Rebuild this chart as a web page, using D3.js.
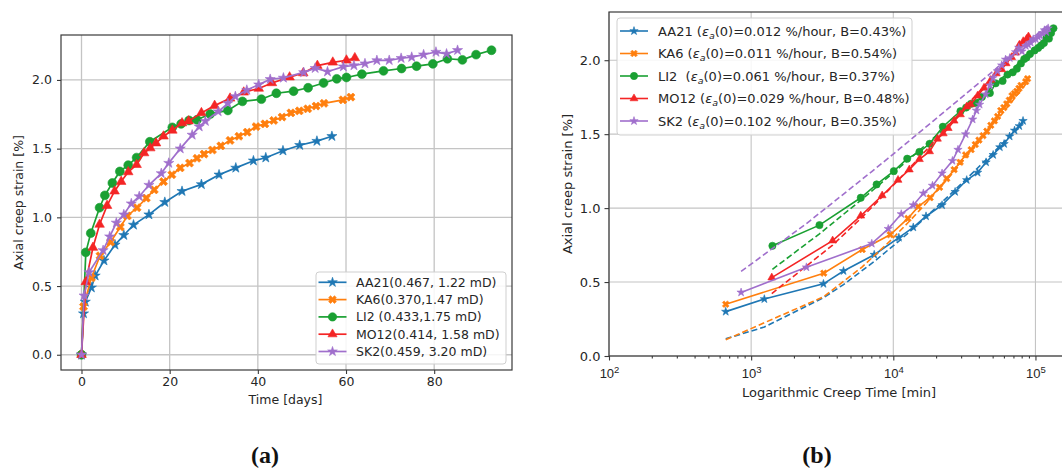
<!DOCTYPE html>
<html><head><meta charset="utf-8">
<script src="https://cdn.jsdelivr.net/npm/d3@7"></script>
<style>
body{margin:0;background:#fff;}
svg{display:block;font-family:"DejaVu Sans",sans-serif;}
text{white-space:pre;}
</style></head><body>
<svg id="chart" width="1062" height="473"></svg>
<script>
// ---------- data ----------
const seriesNames = ["AA21","KA6","LI2","MO12","SK2"];
const legendA = ["AA21(0.467, 1.22 mD)","KA6(0.370,1.47 mD)","LI2 (0.433,1.75 mD)","MO12(0.414, 1.58 mD)","SK2(0.459, 3.20 mD)"];
const legendBName = ["AA21","KA6","LI2 ","MO12","SK2"];
const legendBRate = ["0.012","0.011","0.061","0.029","0.102"];
const legendBB = ["0.43%","0.54%","0.37%","0.48%","0.35%"];
const xTicksA = [0,20,40,60,80];
const yTicks = [0,0.5,1.0,1.5,2.0];
const xTicksB = [1e2,1e3,1e4,1e5];
const xTickExpB = ["2","3","4","5"];

// time in days, axial creep strain in %
const daysAA21 = [0,0.46,0.86,2.24,3.1,5.1,7.6,9.6,11.8,15.3,18.9,22.8,27.2,31.2,35.0,39.0,41.8,45.7,49.5,53.4,56.8];
const strainAA21 = [0,0.30,0.385,0.488,0.575,0.685,0.80,0.87,0.945,1.02,1.11,1.19,1.24,1.31,1.36,1.412,1.434,1.485,1.525,1.555,1.59];
const fitAA21 = [0.116,0.196,0.394,0.483,0.639,0.777,0.862,0.940,1.041,1.124,1.199,1.271,1.327,1.374,1.419,1.448,1.485,1.518,1.550,1.576];

const daysKA6 = [0,0.46,2.25,4.2,6.6,8.8,10.4,12.6,14.7,16.5,18.6,20.5,22.4,24.5,26.2,27.8,29.7,31.6,33.7,35.7,37.6,39.6,41.6,43.6,45.5,47.5,49.4,51.3,53.2,55.0,59.3,61.1];
const strainKA6 = [0,0.35,0.56,0.72,0.82,0.93,1.01,1.07,1.14,1.20,1.26,1.31,1.36,1.395,1.43,1.46,1.49,1.52,1.56,1.59,1.62,1.66,1.68,1.705,1.73,1.76,1.775,1.79,1.81,1.83,1.855,1.875];
const fitKA6 = [0.110,0.401,0.603,0.778,0.901,0.975,1.063,1.135,1.191,1.248,1.296,1.340,1.384,1.418,1.447,1.481,1.512,1.545,1.574,1.601,1.627,1.653,1.677,1.699,1.721,1.741,1.761,1.780,1.797,1.837,1.852];

const daysLI2 = [0,0.98,2.1,4.1,5.3,7.0,8.7,10.6,12.5,15.5,20.6,22.6,24.4,26.2,29.2,33.2,36.5,40.8,44.2,48.1,51.4,54.9,57.9,60.1,63.6,68.5,72.6,76.0,79.7,83.0,86.4,89.5,93.0];
const strainLI2 = [0,0.745,0.885,1.07,1.16,1.25,1.334,1.38,1.435,1.55,1.655,1.68,1.705,1.71,1.752,1.778,1.844,1.86,1.903,1.918,1.943,1.978,2.008,2.018,2.042,2.066,2.083,2.10,2.117,2.154,2.146,2.184,2.216];
const fitLI2 = [0.586,0.826,1.053,1.143,1.242,1.320,1.391,1.451,1.529,1.633,1.667,1.695,1.721,1.761,1.808,1.843,1.883,1.913,1.944,1.968,1.993,2.012,2.026,2.047,2.074,2.096,2.113,2.130,2.145,2.160,2.173,2.187];

const daysMO12 = [0,0.97,2.6,4.1,5.8,7.5,9.0,10.6,12.5,14.2,15.6,16.9,18.6,20.6,22.8,24.3,27.2,30.2,33.7,36.8,40.2,43.2,47.2,50.3,53.5,57.0,60.1,62.0];
const strainMO12 = [0,0.53,0.78,0.948,1.085,1.19,1.26,1.33,1.383,1.468,1.504,1.54,1.59,1.633,1.686,1.70,1.76,1.813,1.866,1.91,1.938,1.978,2.02,2.05,2.104,2.128,2.143,2.16];
const fitMO12 = [0.422,0.750,0.930,1.076,1.188,1.269,1.342,1.417,1.475,1.518,1.555,1.599,1.646,1.694,1.723,1.776,1.825,1.876,1.918,1.960,1.994,2.035,2.066,2.095,2.125,2.150,2.165];

const daysSK2 = [0,0.59,1.7,4.9,6.4,7.9,9.6,11.3,13.1,15.3,18.1,19.8,22.4,25.1,26.7,28.1,31.0,33.2,34.9,37.5,40.2,42.8,45.8,50.4,53.0,55.8,59.4,61.8,64.3,67.0,69.8,72.5,74.9,77.6,80.4,82.8,85.3];
const strainSK2 = [0,0.43,0.60,0.76,0.86,0.96,1.02,1.10,1.152,1.235,1.32,1.395,1.50,1.60,1.66,1.70,1.77,1.83,1.88,1.926,1.966,2.005,2.015,2.055,2.085,2.06,2.097,2.105,2.119,2.142,2.143,2.158,2.166,2.184,2.203,2.19,2.216];
const fitSK2 = [0.572,0.895,1.247,1.338,1.410,1.478,1.534,1.585,1.639,1.697,1.728,1.771,1.811,1.832,1.850,1.884,1.908,1.926,1.951,1.975,1.997,2.020,2.054,2.071,2.089,2.111,2.125,2.139,2.153,2.168,2.181,2.192,2.205,2.217,2.227,2.238];

const colors = ["#1f77b4","#ff7f0e","#1aa032","#f42525","#a06fcc"];
const markers = ["star","x","circle","triangle","star"];

const series = [
  {days:daysAA21, strain:strainAA21, fit:fitAA21},
  {days:daysKA6, strain:strainKA6, fit:fitKA6},
  {days:daysLI2, strain:strainLI2, fit:fitLI2},
  {days:daysMO12, strain:strainMO12, fit:fitMO12},
  {days:daysSK2, strain:strainSK2, fit:fitSK2}
].map((s,i)=>({name:seriesNames[i], color:colors[i], marker:markers[i],
  pts:s.days.map((d,j)=>({d:d, v:s.strain[j]})),
  fitPts:s.days.slice(1).map((d,j)=>({d:d, v:s.fit[j]}))}));

// ---------- helpers ----------
const svg = d3.select("#chart");
const textColor = "#262626";
const spineColor = "#3a3a3a";
const gridColor = "#c4c4c4";
const fsA = 12.5, fsB = 13;

function symbolPath(type, scale){
  if(type==="star") return d3.symbol(d3.symbolStar, 32*scale*scale)();
  if(type==="x") return d3.symbol(d3.symbolCross, 42*scale*scale)();
  if(type==="circle") return d3.symbol(d3.symbolCircle, 62*scale*scale)();
  return d3.symbol(d3.symbolTriangle, 40*scale*scale)();
}
function drawMarker(g, type, x, y, color, scale){
  g.append("path").attr("d", symbolPath(type, scale))
    .attr("transform", `translate(${x},${y})` + (type==="x" ? " rotate(45)" : ""))
    .attr("fill", color).attr("stroke", color).attr("stroke-width", 0.6);
}

// ---------- panel (a) ----------
const A = {l:61, r:512, t:35, b:370};
const xA = d3.scaleLinear().domain([-4.65, 97.65]).range([A.l, A.r]);
const yA = d3.scaleLinear().domain([-0.111, 2.327]).range([A.b, A.t]);
const gA = svg.append("g");
svg.append("clipPath").attr("id","clipA").append("rect")
  .attr("x",A.l).attr("y",A.t).attr("width",A.r-A.l).attr("height",A.b-A.t);

gA.append("g").selectAll("line").data(xTicksA).join("line")
  .attr("x1",d=>xA(d)).attr("x2",d=>xA(d)).attr("y1",A.t).attr("y2",A.b)
  .attr("stroke",gridColor).attr("stroke-width",1.3);
gA.append("g").selectAll("line").data(yTicks).join("line")
  .attr("y1",d=>yA(d)).attr("y2",d=>yA(d)).attr("x1",A.l).attr("x2",A.r)
  .attr("stroke",gridColor).attr("stroke-width",1.3);

const axA_x = gA.append("g").attr("transform",`translate(0,${A.b})`)
  .call(d3.axisBottom(xA).tickValues(xTicksA).tickFormat(d3.format("d")).tickSize(4).tickPadding(3));
const axA_y = gA.append("g").attr("transform",`translate(${A.l},0)`)
  .call(d3.axisLeft(yA).tickValues(yTicks).tickFormat(d3.format(".1f")).tickSize(4).tickPadding(5));
[axA_x, axA_y].forEach(a=>{
  a.select(".domain").remove();
  a.selectAll("line").attr("stroke",spineColor).attr("stroke-width",1.1);
  a.selectAll("text").attr("fill",textColor).attr("font-size",fsA).attr("font-family","DejaVu Sans");
});

const plotA = gA.append("g").attr("clip-path","url(#clipA)");
const lineA = d3.line().x(p=>xA(p.d)).y(p=>yA(p.v));
series.forEach(s=>{
  plotA.append("path").attr("d",lineA(s.pts)).attr("fill","none")
    .attr("stroke",s.color).attr("stroke-width",1.7);
  const mg = plotA.append("g");
  s.pts.forEach(p=>drawMarker(mg, s.marker, xA(p.d), yA(p.v), s.color, 1));
});

gA.append("rect").attr("x",A.l).attr("y",A.t).attr("width",A.r-A.l).attr("height",A.b-A.t)
  .attr("fill","none").attr("stroke",spineColor).attr("stroke-width",1.2);

gA.append("text").attr("x",285.5).attr("y",404).attr("text-anchor","middle")
  .attr("font-size",fsA).attr("fill",textColor).text("Time [days]");
gA.append("text").attr("transform",`translate(19,${(A.t+A.b)/2}) rotate(-90)`).attr("dy","0.35em")
  .attr("text-anchor","middle").attr("font-size",fsA).attr("fill",textColor).text("Axial creep strain [%]");

const LA = {x:316, y:272, w:190, h:92};
const legA = gA.append("g");
legA.append("rect").attr("x",LA.x).attr("y",LA.y).attr("width",LA.w).attr("height",LA.h)
  .attr("rx",3).attr("fill","#fff").attr("fill-opacity",0.85).attr("stroke","#cfcfcf").attr("stroke-width",1);
series.forEach((s,i)=>{
  const cy = 282.3 + 17.3*i;
  legA.append("line").attr("x1",318.5).attr("x2",346.5).attr("y1",cy).attr("y2",cy)
    .attr("stroke",s.color).attr("stroke-width",1.7);
  drawMarker(legA, s.marker, 332.5, cy, s.color, 0.95);
  legA.append("text").attr("x",356).attr("y",cy).attr("dy","0.36em")
    .attr("font-size",fsA).attr("fill",textColor).text(legendA[i]);
});

// ---------- panel (b) ----------
const B = {l:609, r:1070, t:12, b:356};
const xB = d3.scaleLog().domain([100, 175000]).range([B.l, B.r]);
const yB = d3.scaleLinear().domain([0, 2.326]).range([B.b, B.t]);
const gB = svg.append("g");
svg.append("clipPath").attr("id","clipB").append("rect")
  .attr("x",B.l).attr("y",B.t).attr("width",B.r-B.l).attr("height",B.b-B.t);

gB.append("g").selectAll("line").data(xTicksB).join("line")
  .attr("x1",d=>xB(d)).attr("x2",d=>xB(d)).attr("y1",B.t).attr("y2",B.b)
  .attr("stroke",gridColor).attr("stroke-width",1.1);
gB.append("g").selectAll("line").data(yTicks).join("line")
  .attr("y1",d=>yB(d)).attr("y2",d=>yB(d)).attr("x1",B.l).attr("x2",B.r)
  .attr("stroke",gridColor).attr("stroke-width",1.1);

const minorB = [];
[100,1000,10000,100000].forEach(base=>{ for(let k=2;k<=9;k++){ if(base*k<175000) minorB.push(base*k);} });
const axB_minor = gB.append("g").attr("transform",`translate(0,${B.b})`)
  .call(d3.axisBottom(xB).tickValues(minorB).tickFormat("").tickSize(2.5));
const axB_x = gB.append("g").attr("transform",`translate(0,${B.b})`)
  .call(d3.axisBottom(xB).tickValues(xTicksB).tickFormat("").tickSize(4.5));
const axB_y = gB.append("g").attr("transform",`translate(${B.l},0)`)
  .call(d3.axisLeft(yB).tickValues(yTicks).tickFormat(d3.format(".1f")).tickSize(4.5).tickPadding(4));
[axB_minor, axB_x, axB_y].forEach(a=>{
  a.select(".domain").remove();
  a.selectAll("line").attr("stroke",spineColor).attr("stroke-width",1.1);
  a.selectAll("text").attr("fill",textColor).attr("font-size",fsB).attr("font-family","DejaVu Sans");
});
axB_x.selectAll(".tick").each(function(d,i){
  const t = d3.select(this).append("text").attr("y",22).attr("text-anchor","middle")
    .attr("fill",textColor).attr("font-size",fsB);
  t.append("tspan").text("10");
  t.append("tspan").attr("font-size",9.5).attr("dy",-5).text(xTickExpB[i]);
});

const plotB = gB.append("g").attr("clip-path","url(#clipB)");
const lineB = d3.line().x(p=>xB(p.d*1440)).y(p=>yB(p.v));
series.forEach(s=>{
  plotB.append("path").attr("d",lineB(s.pts.filter(p=>p.d>0))).attr("fill","none")
    .attr("stroke",s.color).attr("stroke-width",1.6);
  plotB.append("path").attr("d",lineB(s.fitPts)).attr("fill","none")
    .attr("stroke",s.color).attr("stroke-width",1.6).attr("stroke-dasharray","6,3");
  const mg = plotB.append("g");
  s.pts.filter(p=>p.d>0).forEach(p=>drawMarker(mg, s.marker, xB(p.d*1440), yB(p.v), s.color, 0.82));
});

gB.append("rect").attr("x",B.l).attr("y",B.t).attr("width",B.r-B.l).attr("height",B.b-B.t)
  .attr("fill","none").attr("stroke",spineColor).attr("stroke-width",1.2);

gB.append("text").attr("x",839).attr("y",397).attr("text-anchor","middle")
  .attr("font-size",fsB).attr("fill",textColor).text("Logarithmic Creep Time [min]");
gB.append("text").attr("transform",`translate(567,${(B.t+B.b)/2}) rotate(-90)`).attr("dy","0.35em")
  .attr("text-anchor","middle").attr("font-size",fsB).attr("fill",textColor).text("Axial creep strain [%]");

const LB = {x:617, y:18, w:295, h:117};
const legB = gB.append("g");
legB.append("rect").attr("x",LB.x).attr("y",LB.y).attr("width",LB.w).attr("height",LB.h)
  .attr("rx",3).attr("fill","#fff").attr("fill-opacity",0.85).attr("stroke","#cfcfcf").attr("stroke-width",1);
series.forEach((s,i)=>{
  const cy = 31 + 22.5*i;
  legB.append("line").attr("x1",620).attr("x2",648).attr("y1",cy).attr("y2",cy)
    .attr("stroke",s.color).attr("stroke-width",1.6);
  drawMarker(legB, s.marker, 634, cy, s.color, 0.82);
  const t = legB.append("text").attr("x",658).attr("y",cy+4.6)
    .attr("font-size",fsB).attr("fill",textColor).attr("xml:space","preserve");
  t.append("tspan").text(legendBName[i] + " (");
  t.append("tspan").attr("font-style","italic").text("ε");
  t.append("tspan").attr("font-style","italic").attr("font-size",9.5).attr("dy",3).text("a");
  t.append("tspan").attr("dy",-3).text("(0)=" + legendBRate[i] + " %/hour, B=" + legendBB[i] + ")");
});

svg.append("text").attr("x",265).attr("y",463).attr("text-anchor","middle")
  .attr("font-family","Liberation Serif, serif").attr("font-weight","bold").attr("font-size",24)
  .attr("fill","#111").text("(a)");
svg.append("text").attr("x",817).attr("y",463).attr("text-anchor","middle")
  .attr("font-family","Liberation Serif, serif").attr("font-weight","bold").attr("font-size",24)
  .attr("fill","#111").text("(b)");
</script>
</body></html>
